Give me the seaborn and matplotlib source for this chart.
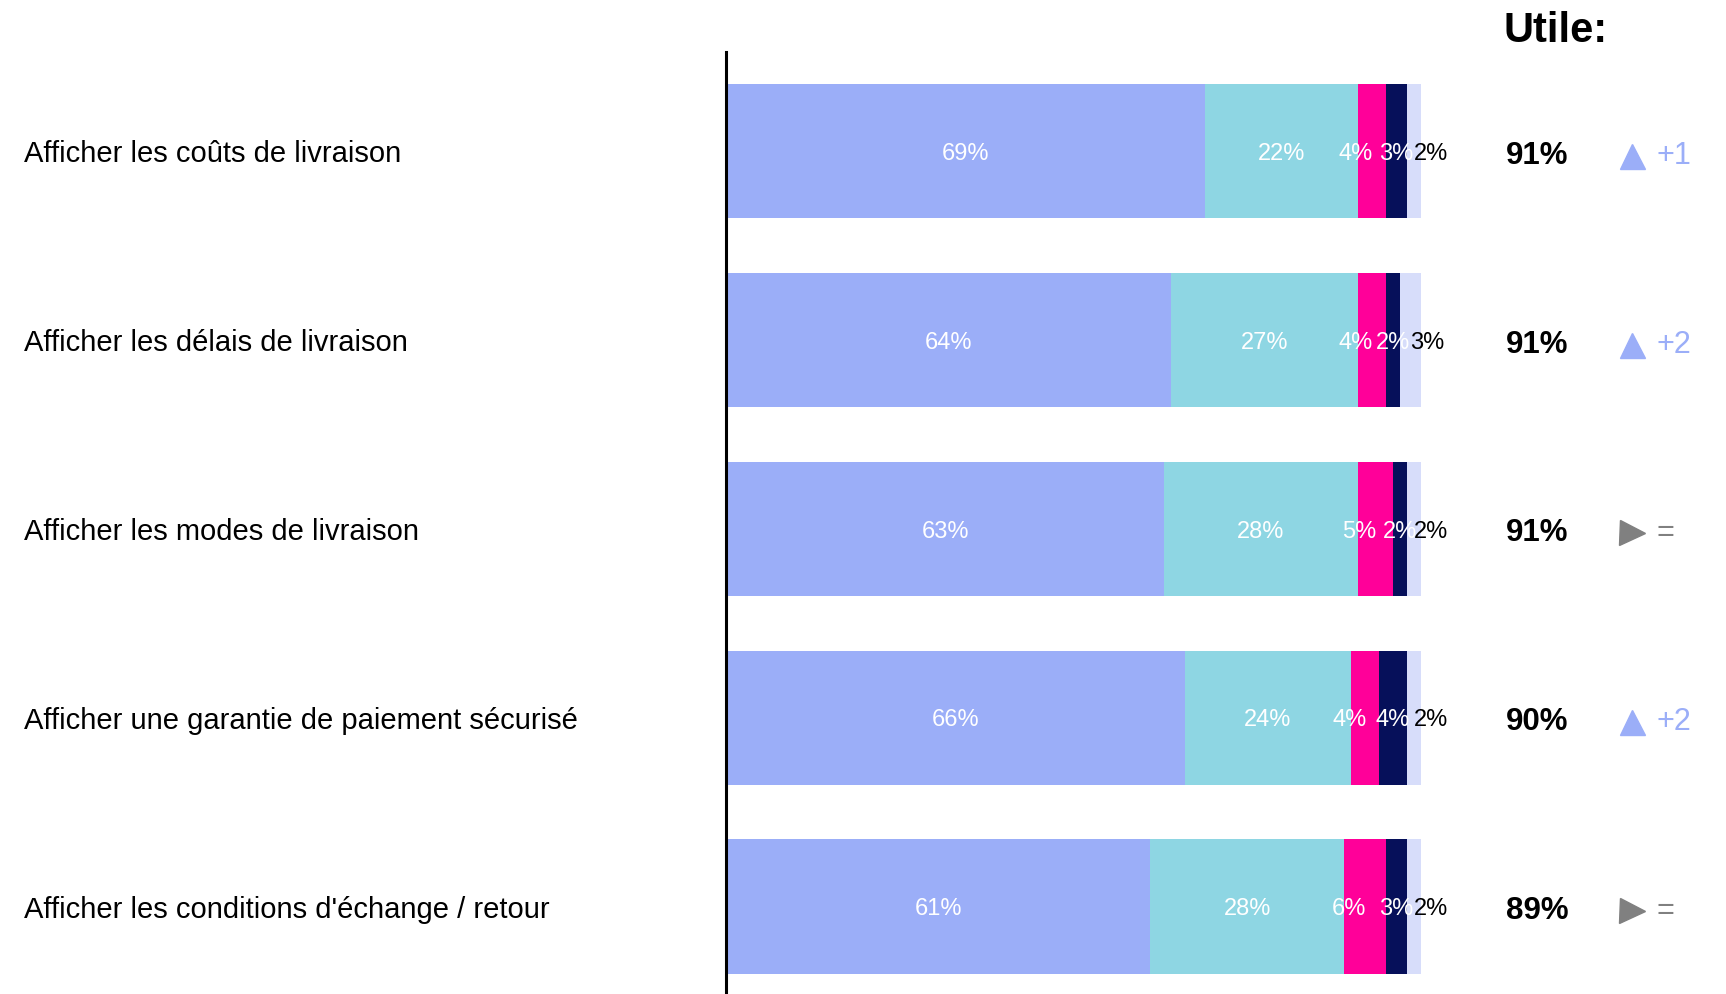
import numpy as np
import matplotlib
matplotlib.use("Agg")
import matplotlib.pyplot as plt
import seaborn as sns

# ==========================================
# Data
# ==========================================
items = [
    "Afficher les coûts de livraison",
    "Afficher les délais de livraison",
    "Afficher les modes de livraison",
    "Afficher une garantie de paiement sécurisé",
    "Afficher les conditions d'échange / retour",
]
tres_utile = [69, 64, 63, 66, 61]
plutot_utile = [22, 27, 28, 24, 28]
peu_utile = [4, 4, 5, 4, 6]
pas_utile = [3, 2, 2, 4, 3]
nsp = [2, 3, 2, 2, 2]
utile_total = [91, 91, 91, 90, 89]
evolution = ["+1", "+2", "=", "+2", "="]

# ==========================================
# Styling
# ==========================================
seg_colors = ["#9BAEF8", "#8ED6E3", "#FF0099", "#06105A", "#D7DDFA"]
label_colors = ["white", "white", "white", "white", "black"]
label_shift = [0, 0, -2.3, 0, 2.5]   # nudge small labels apart (in % units)
up_color = "#9BAEF8"
flat_color = "#808080"
dy = 0.025   # small downward nudge for text so it sits optically centred

sns.set_theme(style="white")
plt.rcParams['font.family'] = ['Liberation Sans', 'DejaVu Sans']
plt.rcParams['text.color'] = 'black'

fig = plt.figure(figsize=(17.26, 9.94), dpi=100)
ax = fig.add_axes([0.4209, 0.0, 0.4022, 0.9477])

# ==========================================
# Stacked bars (draw cumulative totals back to front)
# ==========================================
segments = [tres_utile, plutot_utile, peu_utile, pas_utile, nsp]
cum = np.cumsum(np.array(segments), axis=0)

for k in range(len(segments) - 1, -1, -1):
    sns.barplot(x=cum[k], y=items, color=seg_colors[k], orient="h",
                width=0.71, saturation=1, linewidth=0, ax=ax)

# segment labels
for k, seg in enumerate(segments):
    starts = cum[k] - np.array(seg)
    for i, v in enumerate(seg):
        ax.text(starts[i] + v / 2 + label_shift[k], i + 0.015, f"{v}%",
                ha="center", va="center", color=label_colors[k],
                fontsize=17, clip_on=False)

# right-hand summary column
ax.text(112.0, -0.577, "Utile:", fontsize=30, fontweight="bold",
        color="black", ha="left", va="baseline", clip_on=False)
for i in range(len(items)):
    ax.text(112.3, i + dy, f"{utile_total[i]}%", fontsize=22.5, fontweight="bold",
            color="black", ha="left", va="center", clip_on=False)
    if evolution[i] == "=":
        marker, col = ">", flat_color
    else:
        marker, col = "^", up_color
    ax.plot([130.4], [i + dy], marker=marker, ms=18, color=col, ls="none", clip_on=False)
    ax.text(134.0, i + dy, evolution[i], fontsize=22, color=col,
            ha="left", va="center", clip_on=False)

# ==========================================
# Axes cosmetics
# ==========================================
ax.set_xlim(0, 100)
ax.set_ylim(4.463, -0.524)
ax.set_xticks([])
ax.set_yticks(range(len(items)))
ax.set_yticklabels(items, ha="left", fontsize=21, color="black")
ax.tick_params(axis="y", length=0, pad=505.8)
ax.set_xlabel("")
ax.set_ylabel("")
for side in ["top", "right", "bottom"]:
    ax.spines[side].set_visible(False)
ax.spines["left"].set_color("black")
ax.spines["left"].set_linewidth(2.2)

fig.savefig("out.png", dpi=100)
